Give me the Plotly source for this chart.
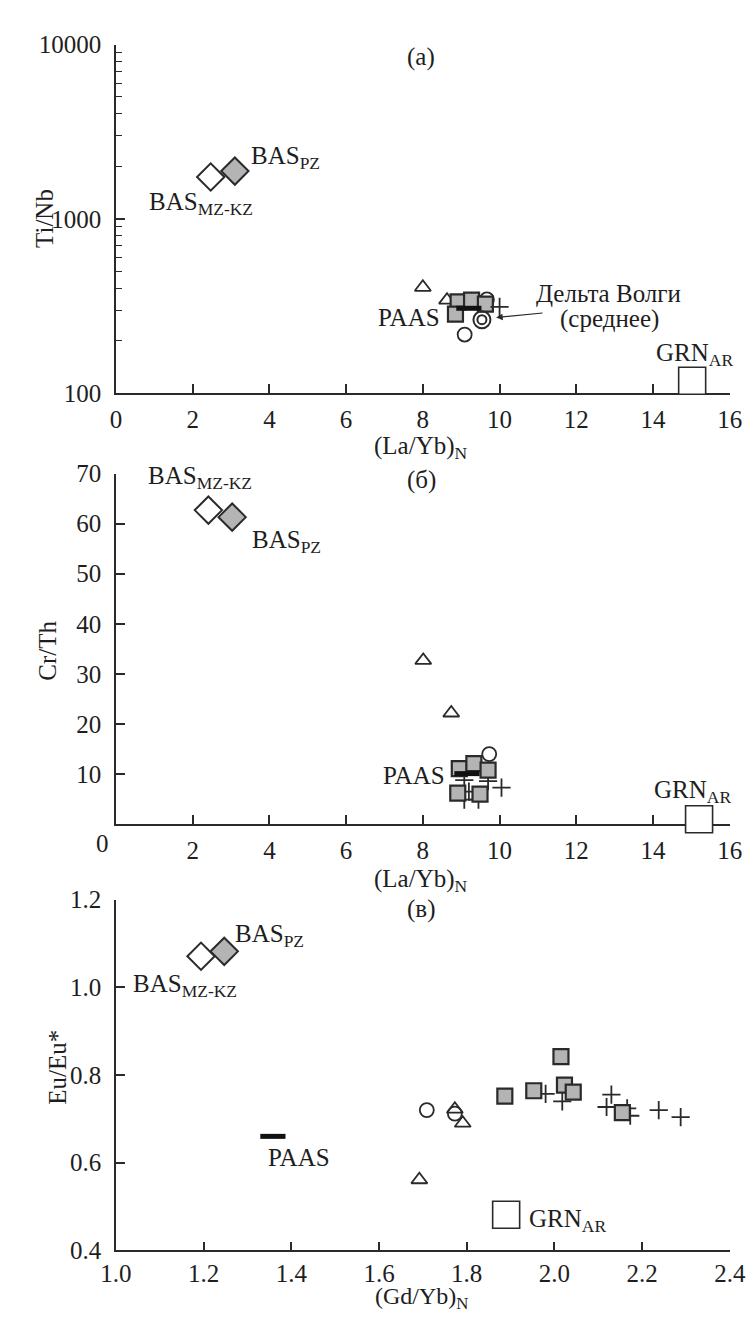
import plotly.graph_objects as go

W, H = 755, 1320
FONT = "Liberation Serif"
EDGE = "#2a2a2a"
GREY = "#b4b4b4"
TXT = "#1e1e1e"
FS = 25

# ---------------- Panel (a): (La/Yb)N vs Ti/Nb ----------------
a_tri_x = [8.0, 8.63]
a_tri_y = [405, 342]
a_circ_x = [9.67, 9.09]
a_circ_y = [345, 217]
a_sq_x = [8.92, 9.27, 9.63, 8.85]
a_sq_y = [334, 342, 324, 284]
a_cross_x = [10.0]
a_cross_y = [313]
a_paas_x = [9.2]
a_paas_y = [307]
a_volga_x = [9.54]
a_volga_y = [264]
a_basmz_x = [2.47]
a_basmz_y = [1737]
a_baspz_x = [3.1]
a_baspz_y = [1880]
a_grn_x = [15.02]
a_grn_y = [118]

# ---------------- Panel (б): (La/Yb)N vs Cr/Th ----------------
b_tri_x = [8.01, 8.74]
b_tri_y = [32.7, 22.2]
b_circ_x = [9.73]
b_circ_y = [14.0]
b_cross_x = [9.08, 9.08, 9.45, 9.7, 9.2, 10.05]
b_cross_y = [8.8, 4.9, 4.9, 8.6, 6.5, 7.3]
b_sq_x = [8.95, 9.33, 9.7, 8.91, 9.49]
b_sq_y = [11.1, 12.1, 10.8, 6.2, 6.0]
b_paas_x = [9.15]
b_paas_y = [10.1]
b_basmz_x = [2.41]
b_basmz_y = [62.7]
b_baspz_x = [3.03]
b_baspz_y = [61.3]
b_grn_x = [15.2]
b_grn_y = [1.0]

# ---------------- Panel (в): (Gd/Yb)N vs Eu/Eu* ----------------
c_tri_x = [1.773, 1.791, 1.692]
c_tri_y = [0.722, 0.690, 0.561]
c_circ_x = [1.709, 1.773]
c_circ_y = [0.720, 0.712]
c_cross_x = [1.98, 2.018, 2.13, 2.119, 2.173, 2.166, 2.238, 2.288]
c_cross_y = [0.757, 0.740, 0.755, 0.727, 0.707, 0.724, 0.720, 0.704]
c_sq_x = [1.887, 1.953, 2.023, 2.043, 2.155, 2.015]
c_sq_y = [0.752, 0.764, 0.777, 0.761, 0.714, 0.842]
c_paas_x = [1.358]
c_paas_y = [0.66]
c_basmz_x = [1.194]
c_basmz_y = [1.071]
c_baspz_x = [1.247]
c_baspz_y = [1.082]
c_grn_x = [1.89]
c_grn_y = [0.481]

# tick values
a_xticks = [0, 2, 4, 6, 8, 10, 12, 14, 16]
a_yticks = [100, 1000, 10000]
a_yminor = [200, 300, 400, 500, 600, 700, 800, 900,
            2000, 3000, 4000, 5000, 6000, 7000, 8000, 9000]
b_yticks = [10, 20, 30, 40, 50, 60, 70]
c_xticks = [1.0, 1.2, 1.4, 1.6, 1.8, 2.0, 2.2, 2.4]
c_yticks = [0.4, 0.6, 0.8, 1.0, 1.2]

fig = go.Figure()


def add(x, y, panel, symbol, size, color, lw, lc=EDGE):
    xa = "x" if panel == 1 else "x%d" % panel
    ya = "y" if panel == 1 else "y%d" % panel
    fig.add_trace(go.Scatter(
        x=x, y=y, mode="markers", xaxis=xa, yaxis=ya, cliponaxis=False,
        showlegend=False, hoverinfo="skip",
        marker=dict(symbol=symbol, size=size, color=color,
                    line=dict(color=lc, width=lw))))


def panel_marks(p, tri, circ, cross, sq, paas, basmz, baspz, grn, volga=None, cross_front=True):
    add(tri[0], tri[1], p, "triangle-up-open", 14, EDGE, 1.8)
    add(circ[0], circ[1], p, "circle-open", 14, EDGE, 1.8)
    if not cross_front:
        add(cross[0], cross[1], p, "cross-thin-open", 13, EDGE, 1.8)
    add(sq[0], sq[1], p, "square", 15, GREY, 2.2)
    add(paas[0], paas[1], p, "line-ew-open", 18, "#111111", 5)
    if cross_front:
        add(cross[0], cross[1], p, "cross-thin-open", 13, EDGE, 1.8)
    if volga is not None:
        add(volga[0], volga[1], p, "circle-open", 17, EDGE, 2)
        add(volga[0], volga[1], p, "circle-open", 9, EDGE, 2)
    add(basmz[0], basmz[1], p, "diamond", 21, "white", 2)
    add(baspz[0], baspz[1], p, "diamond", 21, GREY, 2)
    add(grn[0], grn[1], p, "square", 27, "white", 1.6)


panel_marks(1, (a_tri_x, a_tri_y), (a_circ_x, a_circ_y), (a_cross_x, a_cross_y),
            (a_sq_x, a_sq_y), (a_paas_x, a_paas_y), (a_basmz_x, a_basmz_y),
            (a_baspz_x, a_baspz_y), (a_grn_x, a_grn_y), volga=(a_volga_x, a_volga_y))
panel_marks(2, (b_tri_x, b_tri_y), (b_circ_x, b_circ_y), (b_cross_x, b_cross_y),
            (b_sq_x, b_sq_y), (b_paas_x, b_paas_y), (b_basmz_x, b_basmz_y),
            (b_baspz_x, b_baspz_y), (b_grn_x, b_grn_y), cross_front=False)
panel_marks(3, (c_tri_x, c_tri_y), (c_circ_x, c_circ_y), (c_cross_x, c_cross_y),
            (c_sq_x, c_sq_y), (c_paas_x, c_paas_y), (c_basmz_x, c_basmz_y),
            (c_baspz_x, c_baspz_y), (c_grn_x, c_grn_y), cross_front=False)

# ---------------- axes ----------------
XD = [96 / W, 737 / W]


def ydom(top, bottom):
    return [1 - bottom / H, 1 - top / H]


common = dict(showline=True, linecolor=EDGE, linewidth=1.5, ticks="inside",
              ticklen=9, tickwidth=1.5, tickcolor=EDGE, showgrid=False,
              zeroline=False, layer="below traces",
              tickfont=dict(family=FONT, size=FS, color=TXT))
XS = 3
YS = 8

fig.update_layout(
    width=W, height=H, margin=dict(l=0, r=0, t=0, b=0),
    paper_bgcolor="white", plot_bgcolor="white",
    xaxis=dict(common, domain=XD, anchor="y", range=[0, 16], tickvals=a_xticks,
               ticklabelstandoff=XS),
    yaxis=dict(common, domain=ydom(24, 380), anchor="x", type="log", range=[2, 4],
               tickvals=a_yticks, ticktext=[str(v) for v in a_yticks],
               ticklabelstandoff=YS,
               minor=dict(ticks="inside", ticklen=6, tickwidth=1.3, tickcolor=EDGE,
                          tickvals=a_yminor, showgrid=False)),
    xaxis2=dict(common, domain=XD, anchor="y2", range=[0, 16], tickvals=a_xticks,
                ticktext=[""] + [str(v) for v in a_xticks[1:]], ticklabelstandoff=XS),
    yaxis2=dict(common, domain=ydom(462, 820), anchor="x2", range=[0, 70],
                tickvals=b_yticks, ticklabelstandoff=YS),
    xaxis3=dict(common, domain=XD, anchor="y3", range=[1.0, 2.4], tickvals=c_xticks,
                ticktext=["%.1f" % v for v in c_xticks], ticklabelstandoff=0),
    yaxis3=dict(common, domain=ydom(897, 1255), anchor="x3", range=[0.4, 1.2],
                tickvals=c_yticks, ticktext=["%.1f" % v for v in c_yticks],
                ticklabelstandoff=YS),
)


def pnote(text, px, py, xanchor="center", angle=0, size=FS):
    fig.add_annotation(text=text, x=px / W, y=1 - py / H, xref="paper", yref="paper",
                       xanchor=xanchor, yanchor="middle", showarrow=False,
                       textangle=angle, font=dict(family=FONT, size=size, color=TXT))


def dnote(text, x, y, p, xanchor="left", size=FS):
    xr = "x" if p == 1 else "x%d" % p
    yr = "y" if p == 1 else "y%d" % p
    fig.add_annotation(text=text, x=x, y=y, xref=xr, yref=yr, xanchor=xanchor,
                       yanchor="middle", showarrow=False,
                       font=dict(family=FONT, size=size, color=TXT))


# panel titles / axis titles
pnote("(a)", 415, 37)
pnote("(б)", 415, 469)
pnote("(в)", 415, 907)
pnote("(La/Yb)<sub>N</sub>", 415, 435)
pnote("(La/Yb)<sub>N</sub>", 415, 877)
pnote("(Gd/Yb)<sub>N</sub>", 415, 1304, size=24)
pnote("Ti/Nb", 22, 202, angle=-90)
pnote("Cr/Th", 25, 643, angle=-90)
pnote("Eu/Eu*", 35, 1068, angle=-90)
pnote("0", 82, 840)

# point labels, panel (a) (log axis -> log10 y)
dnote("BAS<sub>PZ</sub>", 3.47, 3.354, 1)
dnote("BAS<sub>MZ-KZ</sub>", 0.8, 3.09, 1)
dnote("PAAS", 8.51, 2.433, 1, xanchor="right")
dnote("GRN<sub>AR</sub>", 15.08, 2.22, 1, xanchor="center")
dnote("Дельта Волги", 10.91, 2.573, 1)
dnote("(среднее)", 11.51, 2.427, 1)
fig.add_annotation(x=9.91, y=2.434, ax=11.16, ay=2.461, xref="x", yref="y",
                   axref="x", ayref="y", text="", showarrow=True, arrowhead=2,
                   arrowsize=1.1, arrowwidth=1.2, arrowcolor=EDGE)

# panel (б)
dnote("BAS<sub>MZ-KZ</sub>", 0.78, 69.3, 2)
dnote("BAS<sub>PZ</sub>", 3.5, 56.5, 2)
dnote("PAAS", 8.63, 9.8, 2, xanchor="right")
dnote("GRN<sub>AR</sub>", 15.03, 6.6, 2, xanchor="center")

# panel (в)
dnote("BAS<sub>PZ</sub>", 1.266, 1.118, 3)
dnote("BAS<sub>MZ-KZ</sub>", 1.035, 1.005, 3)
dnote("PAAS", 1.343, 0.612, 3)
dnote("GRN<sub>AR</sub>", 1.937, 0.468, 3)

fig.write_html("out.html")
